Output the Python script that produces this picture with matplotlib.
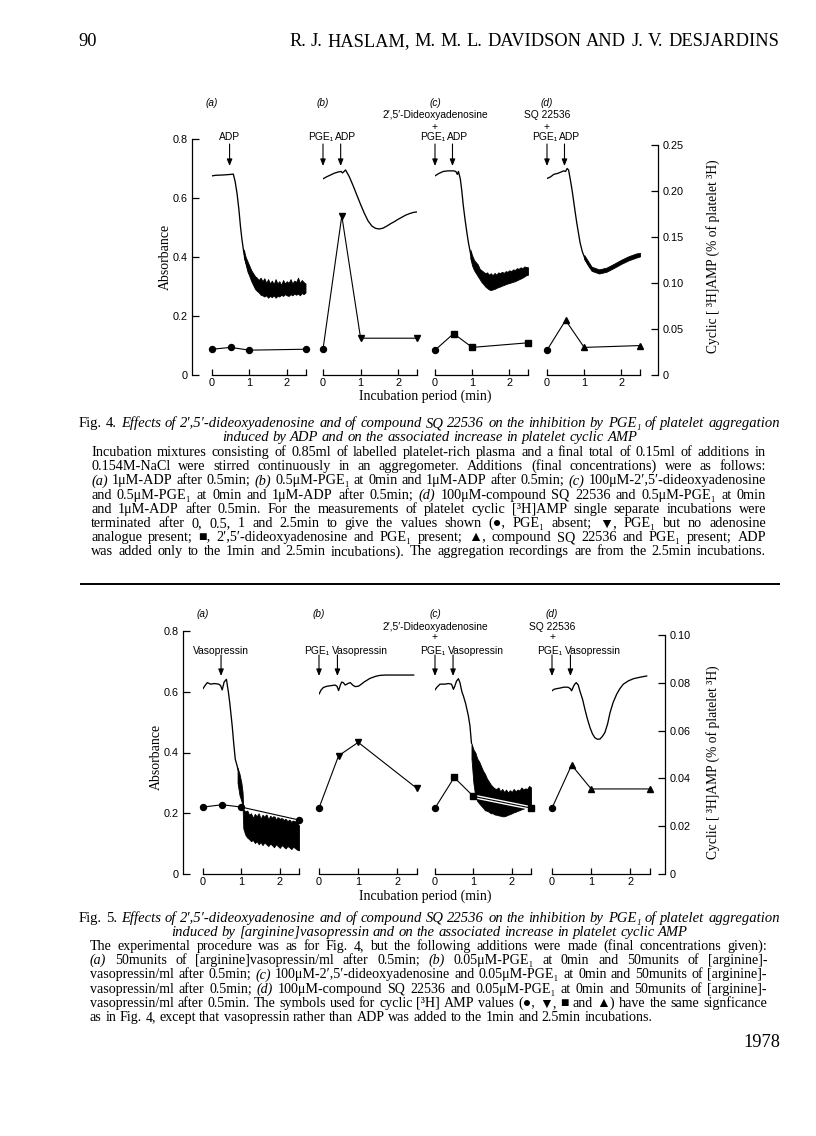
import matplotlib
matplotlib.use('Agg')
import matplotlib.pyplot as plt
import matplotlib.patheffects as pe
import matplotlib.transforms as mtransforms
from matplotlib.lines import Line2D

# ===================== DATA =====================
cyc_times = [0, 0.5, 1, 2.5]
addition_times = [0, 0.47]

abs_ticks = [0, 0.2, 0.4, 0.6, 0.8]
abs_ticklabels = ['0', '0.2', '0.4', '0.6', '0.8']
fig4_cyc_ticks = [0, 0.05, 0.10, 0.15, 0.20, 0.25]
fig4_cyc_ticklabels = ['0', '0.05', '0.10', '0.15', '0.20', '0.25']
fig5_cyc_ticks = [0, 0.02, 0.04, 0.06, 0.08, 0.10]
fig5_cyc_ticklabels = ['0', '0.02', '0.04', '0.06', '0.08', '0.10']
time_ticks = [0, 1, 2, 2.5]
time_ticklabels = ['0', '1', '2', '']

panel_letters = ['(a)', '(b)', '(c)', '(d)']
panel_top_lines = [[], [], ['2\u2032,5\u2032-Dideoxyadenosine', '+'], ['SQ 22536', '+']]
fig4_agents = [['ADP'], ['PGE\u2081', 'ADP'], ['PGE\u2081', 'ADP'], ['PGE\u2081', 'ADP']]
fig5_agents = [['Vasopressin'], ['PGE\u2081', 'Vasopressin'], ['PGE\u2081', 'Vasopressin'], ['PGE\u2081', 'Vasopressin']]

# --- Fig. 4 absorbance traces ---
f4a_t = [0, 0.1, 0.3, 0.5, 0.57, 0.62, 0.67, 0.72, 0.76, 0.8, 0.85, 0.9, 0.98, 1.05, 1.12, 1.2, 1.29, 1.4, 1.56, 1.7, 1.9, 2.1, 2.3, 2.5]
f4a_abs = [0.675, 0.677, 0.678, 0.68, 0.681, 0.655, 0.615, 0.56, 0.505, 0.46, 0.415, 0.385, 0.355, 0.335, 0.322, 0.31, 0.298, 0.29, 0.285, 0.285, 0.29, 0.29, 0.292, 0.29]
f4a_band_t = [0.85, 0.9, 0.95, 1.0, 1.05, 1.1, 1.15, 1.2, 1.25, 1.3, 1.35, 1.4, 1.45, 1.5, 1.55, 1.6, 1.65, 1.7, 1.75, 1.8, 1.85, 1.9, 1.95, 2.0, 2.05, 2.1, 2.15, 2.2, 2.25, 2.3, 2.35, 2.4, 2.45, 2.5]
f4a_band_hi = [0.425, 0.4, 0.385, 0.37, 0.355, 0.345, 0.335, 0.33, 0.322, 0.33, 0.318, 0.328, 0.312, 0.325, 0.31, 0.32, 0.308, 0.325, 0.31, 0.318, 0.305, 0.322, 0.31, 0.318, 0.312, 0.325, 0.31, 0.32, 0.315, 0.33, 0.312, 0.322, 0.315, 0.31]
f4a_band_lo = [0.4, 0.375, 0.35, 0.335, 0.318, 0.305, 0.292, 0.285, 0.28, 0.272, 0.27, 0.266, 0.27, 0.262, 0.268, 0.264, 0.27, 0.262, 0.268, 0.266, 0.272, 0.268, 0.274, 0.27, 0.268, 0.274, 0.27, 0.276, 0.272, 0.276, 0.27, 0.278, 0.274, 0.28]

f4b_t = [0, 0.1, 0.2, 0.3, 0.4, 0.48, 0.52, 0.6, 0.7, 0.8, 0.9, 1.0, 1.1, 1.2, 1.3, 1.4, 1.5, 1.6, 1.7, 1.8, 1.9, 2.0, 2.1, 2.2, 2.3, 2.4, 2.5]
f4b_abs = [0.665, 0.672, 0.678, 0.684, 0.688, 0.69, 0.685, 0.695, 0.672, 0.642, 0.61, 0.578, 0.548, 0.522, 0.505, 0.497, 0.495, 0.498, 0.505, 0.513, 0.52, 0.528, 0.535, 0.542, 0.547, 0.551, 0.553]

f4c_t = [0, 0.1, 0.22, 0.35, 0.5, 0.56, 0.6, 0.63, 0.68, 0.72, 0.76, 0.81, 0.86, 0.9, 0.95, 0.99, 1.05, 1.12, 1.2, 1.3, 1.4, 1.48, 1.6, 1.75, 1.9, 2.02, 2.15, 2.29, 2.4, 2.5]
f4c_abs = [0.675, 0.683, 0.69, 0.692, 0.692, 0.69, 0.68, 0.69, 0.665, 0.625, 0.575, 0.525, 0.48, 0.448, 0.415, 0.392, 0.372, 0.357, 0.342, 0.328, 0.32, 0.317, 0.318, 0.325, 0.33, 0.334, 0.338, 0.345, 0.35, 0.355]
f4c_band_t = [0.95, 1.0, 1.05, 1.1, 1.15, 1.2, 1.25, 1.3, 1.35, 1.4, 1.45, 1.5, 1.55, 1.6, 1.65, 1.7, 1.75, 1.8, 1.85, 1.9, 1.95, 2.0, 2.05, 2.1, 2.15, 2.2, 2.25, 2.3, 2.35, 2.4, 2.45, 2.5]
f4c_band_hi = [0.425, 0.405, 0.39, 0.382, 0.375, 0.36, 0.355, 0.35, 0.345, 0.348, 0.34, 0.345, 0.338, 0.346, 0.34, 0.348, 0.345, 0.35, 0.346, 0.352, 0.35, 0.355, 0.352, 0.358, 0.356, 0.362, 0.36, 0.365, 0.362, 0.368, 0.366, 0.365]
f4c_band_lo = [0.395, 0.37, 0.355, 0.345, 0.335, 0.325, 0.315, 0.308, 0.3, 0.295, 0.29, 0.288, 0.29, 0.292, 0.295, 0.298, 0.3, 0.303, 0.305, 0.308, 0.31, 0.312, 0.314, 0.316, 0.318, 0.321, 0.324, 0.327, 0.33, 0.334, 0.338, 0.34]

f4d_t = [0, 0.1, 0.18, 0.3, 0.45, 0.5, 0.54, 0.58, 0.625, 0.67, 0.71, 0.76, 0.8, 0.85, 0.89, 0.95, 1.03, 1.1, 1.16, 1.25, 1.34, 1.45, 1.6, 1.75, 1.96, 2.1, 2.23, 2.35, 2.5]
f4d_abs = [0.666, 0.672, 0.68, 0.684, 0.692, 0.69, 0.70, 0.695, 0.664, 0.63, 0.595, 0.55, 0.516, 0.478, 0.448, 0.418, 0.391, 0.375, 0.363, 0.355, 0.351, 0.352, 0.357, 0.367, 0.382, 0.39, 0.397, 0.403, 0.408]
f4d_band_t = [1.0, 1.2, 1.4, 1.6, 1.8, 2.0, 2.2, 2.4, 2.5]
f4d_band_hi = [0.407, 0.367, 0.358, 0.364, 0.377, 0.391, 0.403, 0.412, 0.414]
f4d_band_lo = [0.393, 0.353, 0.344, 0.350, 0.363, 0.377, 0.389, 0.398, 0.402]

# --- Fig. 4 cyclic [3H]AMP (% of platelet 3H) ---
f4a_cyc = [0.028, 0.030, 0.027, 0.028]
f4b_cyc = [0.028, 0.173, 0.040, 0.040]
f4c_cyc = [0.027, 0.045, 0.030, 0.035]
f4d_cyc = [0.027, 0.0595, 0.030, 0.032]

# --- Fig. 5 absorbance traces ---
f5a_t = [0, 0.05, 0.11, 0.2, 0.3, 0.41, 0.46, 0.5, 0.55, 0.61, 0.66, 0.7, 0.76, 0.8, 0.84, 0.88, 0.92]
f5a_abs = [0.61, 0.62, 0.63, 0.625, 0.627, 0.625, 0.62, 0.606, 0.632, 0.641, 0.6, 0.56, 0.488, 0.43, 0.378, 0.36, 0.34]
f5a_band_t = [0.9, 0.95, 1.0, 1.03, 1.05, 1.1, 1.15, 1.2, 1.25, 1.3, 1.35, 1.4, 1.45, 1.5, 1.55, 1.6, 1.65, 1.7, 1.75, 1.8, 1.85, 1.9, 1.95, 2.0, 2.05, 2.1, 2.15, 2.2, 2.25, 2.3, 2.35, 2.4, 2.45, 2.5]
f5a_band_hi = [0.35, 0.33, 0.3, 0.27, 0.215, 0.205, 0.21, 0.195, 0.2, 0.185, 0.198, 0.19, 0.2, 0.182, 0.195, 0.188, 0.198, 0.18, 0.192, 0.185, 0.195, 0.178, 0.19, 0.18, 0.188, 0.176, 0.185, 0.172, 0.182, 0.17, 0.18, 0.175, 0.17, 0.16]
f5a_band_lo = [0.3, 0.26, 0.24, 0.225, 0.15, 0.13, 0.12, 0.115, 0.108, 0.112, 0.102, 0.108, 0.098, 0.105, 0.095, 0.104, 0.098, 0.092, 0.1, 0.095, 0.088, 0.098, 0.092, 0.086, 0.095, 0.09, 0.084, 0.092, 0.088, 0.082, 0.09, 0.085, 0.08, 0.078]

f5b_t = [0, 0.05, 0.11, 0.2, 0.3, 0.41, 0.46, 0.5, 0.55, 0.58, 0.62, 0.67, 0.75, 0.8, 0.86, 0.92, 1.0, 1.05, 1.15, 1.3, 1.45, 1.56, 1.7, 1.82, 2.0, 2.2, 2.42]
f5b_abs = [0.592, 0.605, 0.614, 0.618, 0.62, 0.622, 0.618, 0.604, 0.624, 0.632, 0.63, 0.622, 0.628, 0.63, 0.622, 0.617, 0.618, 0.622, 0.632, 0.644, 0.651, 0.654, 0.655, 0.655, 0.655, 0.655, 0.655]

f5c_t = [0, 0.05, 0.13, 0.25, 0.35, 0.43, 0.48, 0.52, 0.56, 0.61, 0.65, 0.7, 0.74, 0.8, 0.87, 0.91, 0.95]
f5c_abs = [0.606, 0.615, 0.625, 0.625, 0.627, 0.625, 0.608, 0.62, 0.635, 0.643, 0.63, 0.6, 0.586, 0.56, 0.52, 0.488, 0.43]
f5c_band_t = [0.95, 1.0, 1.05, 1.1, 1.15, 1.2, 1.25, 1.3, 1.35, 1.4, 1.45, 1.5, 1.55, 1.6, 1.65, 1.7, 1.75, 1.8, 1.85, 1.9, 1.95, 2.0, 2.05, 2.1, 2.15, 2.2, 2.25, 2.3, 2.35, 2.4, 2.45, 2.5]
f5c_band_hi = [0.43, 0.41, 0.4, 0.38, 0.37, 0.355, 0.34, 0.33, 0.315, 0.305, 0.295, 0.288, 0.282, 0.28, 0.285, 0.272, 0.28, 0.27, 0.278, 0.268, 0.276, 0.27, 0.28, 0.272, 0.278, 0.275, 0.285, 0.278, 0.282, 0.28, 0.29, 0.285]
f5c_band_lo = [0.38, 0.3, 0.255, 0.24, 0.232, 0.225, 0.218, 0.21, 0.208, 0.205, 0.2, 0.2, 0.196, 0.195, 0.193, 0.192, 0.19, 0.19, 0.192, 0.195, 0.197, 0.2, 0.203, 0.205, 0.208, 0.21, 0.213, 0.215, 0.218, 0.22, 0.222, 0.225]

f5d_t = [0, 0.05, 0.11, 0.2, 0.3, 0.41, 0.47, 0.5, 0.55, 0.58, 0.62, 0.67, 0.71, 0.78, 0.84, 0.9, 0.97, 1.03, 1.09, 1.15, 1.22, 1.28, 1.35, 1.42, 1.48, 1.56, 1.65, 1.73, 1.82, 1.95, 2.08, 2.25, 2.42]
f5d_abs = [0.603, 0.608, 0.61, 0.612, 0.615, 0.615, 0.61, 0.603, 0.618, 0.625, 0.63, 0.622, 0.603, 0.575, 0.542, 0.512, 0.482, 0.462, 0.449, 0.444, 0.444, 0.452, 0.466, 0.495, 0.531, 0.565, 0.592, 0.61, 0.625, 0.636, 0.643, 0.648, 0.652]

# --- Fig. 5 cyclic [3H]AMP ---
f5a_cyc = [0.028, 0.029, 0.028, 0.0226]
f5b_cyc = [0.0276, 0.0495, 0.0551, 0.0358]
f5c_cyc = [0.0276, 0.0404, 0.0325, 0.0276]
f5d_cyc = [0.0276, 0.0456, 0.0356, 0.0356]

# --- text ---
header_page = '90'
header_authors = 'R. J. HASLAM, M. M. L. DAVIDSON AND J. V. DESJARDINS'
xlabel_text = 'Incubation period (min)'
ylabel_left = 'Absorbance'
ylabel_right = 'Cyclic [ \u00b3H]AMP (% of platelet \u00b3H)'

fig4_title_prefix = 'Fig. 4.'
fig4_title_rest = 'Effects of 2\u2032,5\u2032-dideoxyadenosine and of compound SQ 22536 on the inhibition by PGE\u2081 of platelet aggregation'
fig4_title_line2 = 'induced by ADP and on the associated increase in platelet cyclic AMP'
fig4_body = [
    'Incubation mixtures consisting of 0.85ml of labelled platelet-rich plasma and a final total of 0.15ml of additions in',
    '0.154M-NaCl were stirred continuously in an aggregometer. Additions (final concentrations) were as follows:',
    '*(a)* 1\u03bcM-ADP after 0.5min; *(b)* 0.5\u03bcM-PGE\u2081 at 0min and 1\u03bcM-ADP after 0.5min; *(c)* 100\u03bcM-2\u2032,5\u2032-dideoxyadenosine',
    'and 0.5\u03bcM-PGE\u2081 at 0min and 1\u03bcM-ADP after 0.5min; *(d)* 100\u03bcM-compound SQ 22536 and 0.5\u03bcM-PGE\u2081 at 0min',
    'and 1\u03bcM-ADP after 0.5min. For the measurements of platelet cyclic [\u00b3H]AMP single separate incubations were',
    'terminated after 0, 0.5, 1 and 2.5min to give the values shown (\u25cf, PGE\u2081 absent; \u25bc, PGE\u2081 but no adenosine',
    'analogue present; \u25a0, 2\u2032,5\u2032-dideoxyadenosine and PGE\u2081 present; \u25b2, compound SQ 22536 and PGE\u2081 present; ADP',
    'was added only to the 1min and 2.5min incubations). The aggregation recordings are from the 2.5min incubations.',
]
fig5_title_prefix = 'Fig. 5.'
fig5_title_rest = 'Effects of 2\u2032,5\u2032-dideoxyadenosine and of compound SQ 22536 on the inhibition by PGE\u2081 of platelet aggregation'
fig5_title_line2 = 'induced by [arginine]vasopressin and on the associated increase in platelet cyclic AMP'
fig5_body = [
    'The experimental procedure was as for Fig. 4, but the following additions were made (final concentrations given):',
    '*(a)* 50munits of [arginine]vasopressin/ml after 0.5min; *(b)* 0.05\u03bcM-PGE\u2081 at 0min and 50munits of [arginine]-',
    'vasopressin/ml after 0.5min; *(c)* 100\u03bcM-2\u2032,5\u2032-dideoxyadenosine and 0.05\u03bcM-PGE\u2081 at 0min and 50munits of [arginine]-',
    'vasopressin/ml after 0.5min; *(d)* 100\u03bcM-compound SQ 22536 and 0.05\u03bcM-PGE\u2081 at 0min and 50munits of [arginine]-',
    'vasopressin/ml after 0.5min. The symbols used for cyclic [\u00b3H] AMP values (\u25cf, \u25bc, \u25a0 and \u25b2) have the same signficance',
    'as in Fig. 4, except that vasopressin rather than ADP was added to the 1min and 2.5min incubations.',
]
footer_year = '1978'

# ===================== DRAWING =====================
W, H = 816, 1136
fig = plt.figure(figsize=(W / 100, H / 100), dpi=100)
fig.patch.set_facecolor('white')
renderer = fig.canvas.get_renderer()

SANS = ['Liberation Sans', 'DejaVu Sans']
SERIF = ['Liberation Serif', 'DejaVu Serif', 'DejaVu Sans']
plt.rcParams['font.family'] = SANS


def fy(ypx):
    return 1 - ypx / H


def add_px_axes(x0, ytop, x1, ybot):
    ax = fig.add_axes([x0 / W, 1 - ybot / H, (x1 - x0) / W, (ybot - ytop) / H])
    ax.patch.set_alpha(0)
    return ax


markers = [['o', 'o', 'o', 'o'], ['o', 'v', 'v', 'v'], ['o', 's', 's', 's'], ['o', '^', '^', '^']]
msizes = {'o': 4.3, 'v': 4.6, '^': 4.6, 's': 3.8}


def draw_block(L, traces, cycs, cyc_ticks, cyc_ticklabels, agents):
    top, bot = L['top'], L['bottom']
    axf = add_px_axes(L['left'], top, L['right'], bot)
    axf.set_xlim(0, 1)
    axf.set_ylim(0, 0.8)
    for s in ['top', 'right', 'bottom']:
        axf.spines[s].set_visible(False)
    axf.spines['left'].set_linewidth(0.9)
    axf.set_xticks([])
    axf.set_yticks(abs_ticks)
    axf.set_yticklabels(abs_ticklabels, fontsize=7.8, family=SANS)
    axf.tick_params(axis='y', direction='in', length=5, width=0.9, pad=3)
    axr = axf.twinx()
    axr.set_ylim(0, L['cyc_top'])
    for s in ['top', 'left', 'bottom']:
        axr.spines[s].set_visible(False)
    axr.spines['right'].set_linewidth(0.9)
    axr.spines['right'].set_bounds(0, cyc_ticks[-1])
    axr.set_yticks(cyc_ticks)
    axr.set_yticklabels(cyc_ticklabels, fontsize=7.8, family=SANS)
    axr.tick_params(axis='y', direction='in', length=5, width=0.9, pad=3)

    fig.text(L['ylab_l'][0] / W, fy(L['ylab_l'][1]), ylabel_left, rotation=90, ha='center', va='center',
             fontsize=10, family=SERIF)
    fig.text(L['ylab_r'][0] / W, fy(L['ylab_r'][1]), ylabel_right, rotation=90, ha='center', va='center',
             fontsize=9.8, family=SERIF)
    fig.text(L['xlab'][0] / W, fy(L['xlab'][1]), xlabel_text, ha='center', va='center',
             fontsize=10, family=SERIF)

    for i, (x0, x1) in enumerate(L['panels']):
        ax = add_px_axes(x0, top, x1, bot)
        ax.set_xlim(0, 2.5)
        ax.set_ylim(0, 0.8)
        for s in ['top', 'right', 'left']:
            ax.spines[s].set_visible(False)
        ax.spines['bottom'].set_linewidth(0.9)
        ax.set_yticks([])
        ax.set_xticks(time_ticks)
        ax.set_xticklabels(time_ticklabels, fontsize=7.8, family=SANS)
        ax.tick_params(axis='x', direction='in', length=4, width=0.9, pad=2.5)

        t, a, bt, blo, bhi = traces[i]
        ax.plot(t, a, color='k', lw=0.95, solid_joinstyle='round', solid_capstyle='round')
        if bt:
            ax.fill_between(bt, blo, bhi, color='k', lw=0.6)

        axc = ax.twinx()
        axc.set_ylim(0, L['cyc_top'])
        axc.axis('off')
        vals = cycs[i]
        axc.plot(cyc_times, vals, color='k', lw=0.8, clip_on=False, zorder=3,
                 path_effects=[pe.Stroke(linewidth=2.8, foreground='white'), pe.Normal()])
        for tt, vv, m in zip(cyc_times, vals, markers[i]):
            axc.plot([tt], [vv], marker=m, ms=msizes[m], color='k', lw=0, clip_on=False, zorder=4)

        blend = mtransforms.blended_transform_factory(ax.transData, fig.transFigure)
        ax.text(0, fy(L['y_letter']), panel_letters[i], transform=blend, ha='center', va='center',
                fontsize=7.2, family=SANS, style='italic')
        for j, line in enumerate(panel_top_lines[i]):
            ax.text(0, fy(L['y_top'][j]), line, transform=blend, ha='center', va='center',
                    fontsize=7.4, family=SANS)
        labs = agents[i]
        times = addition_times[-len(labs):]
        for k, (tt, lab) in enumerate(zip(times, labs)):
            ax.annotate('', xy=(tt, fy(L['arrow'][1])), xycoords=blend,
                        xytext=(tt, fy(L['arrow'][0])), textcoords=blend,
                        arrowprops=dict(arrowstyle='-|>,head_length=0.4,head_width=0.16', color='k',
                                        lw=0.8, shrinkA=0, shrinkB=0, mutation_scale=10))
            if len(labs) == 1:
                ax.annotate(lab, xy=(tt, fy(L['y_agent'])), xycoords=blend, ha='center', va='center',
                            fontsize=7.4, family=SANS)
            elif k == 0:
                ax.annotate(lab, xy=(tt, fy(L['y_agent'])), xycoords=blend, xytext=(-1.5, 0),
                            textcoords='offset points', ha='center', va='center', fontsize=7.4, family=SANS)
            else:
                ax.annotate(lab, xy=(tt, fy(L['y_agent'])), xycoords=blend, xytext=(-4, 0),
                            textcoords='offset points', ha='left', va='center', fontsize=7.4, family=SANS)


FIG4 = dict(left=192, right=658, top=139, bottom=375, cyc_top=0.2565,
            panels=[(212, 305.5), (323, 417), (435, 528), (547, 640)],
            y_letter=103, y_top=[115, 127], y_agent=137, arrow=(144, 166),
            ylab_l=(165, 257), ylab_r=(713, 256), xlab=(425.5, 396))
FIG5 = dict(left=183, right=665, top=631, bottom=874, cyc_top=0.1017,
            panels=[(203, 299), (319, 417), (435, 531), (552, 650)],
            y_letter=614, y_top=[627, 637], y_agent=651, arrow=(655, 676),
            ylab_l=(156, 757), ylab_r=(713, 762), xlab=(425.5, 896))

draw_block(FIG4,
           [(f4a_t, f4a_abs, f4a_band_t, f4a_band_lo, f4a_band_hi),
            (f4b_t, f4b_abs, None, None, None),
            (f4c_t, f4c_abs, f4c_band_t, f4c_band_lo, f4c_band_hi),
            (f4d_t, f4d_abs, f4d_band_t, f4d_band_lo, f4d_band_hi)],
           [f4a_cyc, f4b_cyc, f4c_cyc, f4d_cyc], fig4_cyc_ticks, fig4_cyc_ticklabels, fig4_agents)
draw_block(FIG5,
           [(f5a_t, f5a_abs, f5a_band_t, f5a_band_lo, f5a_band_hi),
            (f5b_t, f5b_abs, None, None, None),
            (f5c_t, f5c_abs, f5c_band_t, f5c_band_lo, f5c_band_hi),
            (f5d_t, f5d_abs, None, None, None)],
           [f5a_cyc, f5b_cyc, f5c_cyc, f5d_cyc], fig5_cyc_ticks, fig5_cyc_ticklabels, fig5_agents)


# ---------- text layout helpers ----------
def tokens_of(s, style='normal'):
    out = []
    for w in s.split(' '):
        if len(w) > 2 and w.startswith('*') and w.endswith('*'):
            out.append((w[1:-1], 'italic'))
        else:
            out.append((w, style))
    return out


def word_widths(tokens, fs, family=SERIF):
    ws = []
    for w, st in tokens:
        t = fig.text(0, 0, w, fontsize=fs, family=family, style=st)
        ws.append(t.get_window_extent(renderer).width)
        t.remove()
    return ws


def natural_width(tokens, fs, family=SERIF):
    ws = word_widths(tokens, fs, family)
    return sum(ws) + fs * 100 / 72 * 0.25 * (len(ws) - 1)


def fit_size(token_lines, widths, fs0=10, family=SERIF):
    r = min(wd / natural_width(tk, fs0, family) for tk, wd in zip(token_lines, widths))
    return fs0 * r


def place_words(tokens, ybase, x0, x1, mode='justify', fs=9.2, family=SERIF):
    texts, widths = [], []
    for w, st in tokens:
        t = fig.text(0, fy(ybase), w, fontsize=fs, family=family, style=st, va='baseline', ha='left')
        texts.append(t)
        widths.append(t.get_window_extent(renderer).width)
    n = len(texts)
    space = fs * 100 / 72 * 0.25
    gap = (x1 - x0 - sum(widths)) / (n - 1) if (mode == 'justify' and n > 1) else space
    total = sum(widths) + gap * (n - 1)
    if mode == 'center':
        x = (x0 + x1) / 2 - total / 2
    elif mode == 'right':
        x = x1 - total
    else:
        x = x0
    for t, wd in zip(texts, widths):
        t.set_x(x / W)
        x += wd + gap
    return total


def caption(prefix, rest, line2, body, y_t1, y_t2, y_body, step, tx0, tx1, bx0, bx1, last_full):
    toks1 = tokens_of(prefix) + tokens_of(rest, 'italic')
    fs_t = fit_size([toks1], [tx1 - tx0]) * 0.995
    place_words(toks1, y_t1, tx0, tx1, mode='justify', fs=fs_t)
    place_words(tokens_of(line2, 'italic'), y_t2, tx0, tx1, mode='center', fs=fs_t)
    body_toks = [tokens_of(line) for line in body]
    full = body_toks if last_full else body_toks[:-1]
    fs_b = fit_size(full, [bx1 - bx0] * len(full)) * 0.99
    for k, tk in enumerate(body_toks):
        last = (k == len(body_toks) - 1) and not last_full
        place_words(tk, y_body + k * step, bx0, bx1, mode='left' if last else 'justify', fs=fs_b)


# header
htoks = tokens_of(header_authors)
fs_h = fit_size([htoks], [779 - 289]) * 0.99
fig.text(78 / W, fy(46), header_page, fontsize=fs_h, family=SERIF, va='baseline', ha='left')
place_words(htoks, 46, 289, 779, mode='justify', fs=fs_h)

caption(fig4_title_prefix, fig4_title_rest, fig4_title_line2, fig4_body,
        427, 441, 456, 14.2, 79, 780, 91, 766, True)
fig.add_artist(Line2D([81 / W, 779 / W], [fy(584), fy(584)], color='k', lw=1.4))
caption(fig5_title_prefix, fig5_title_rest, fig5_title_line2, fig5_body,
        922, 936, 950, 14.2, 79, 780, 90, 767, False)
place_words([(footer_year, 'normal')], 1047, 700, 780, mode='right', fs=fs_h)

fig.savefig('out.png', dpi=100, facecolor='white')
